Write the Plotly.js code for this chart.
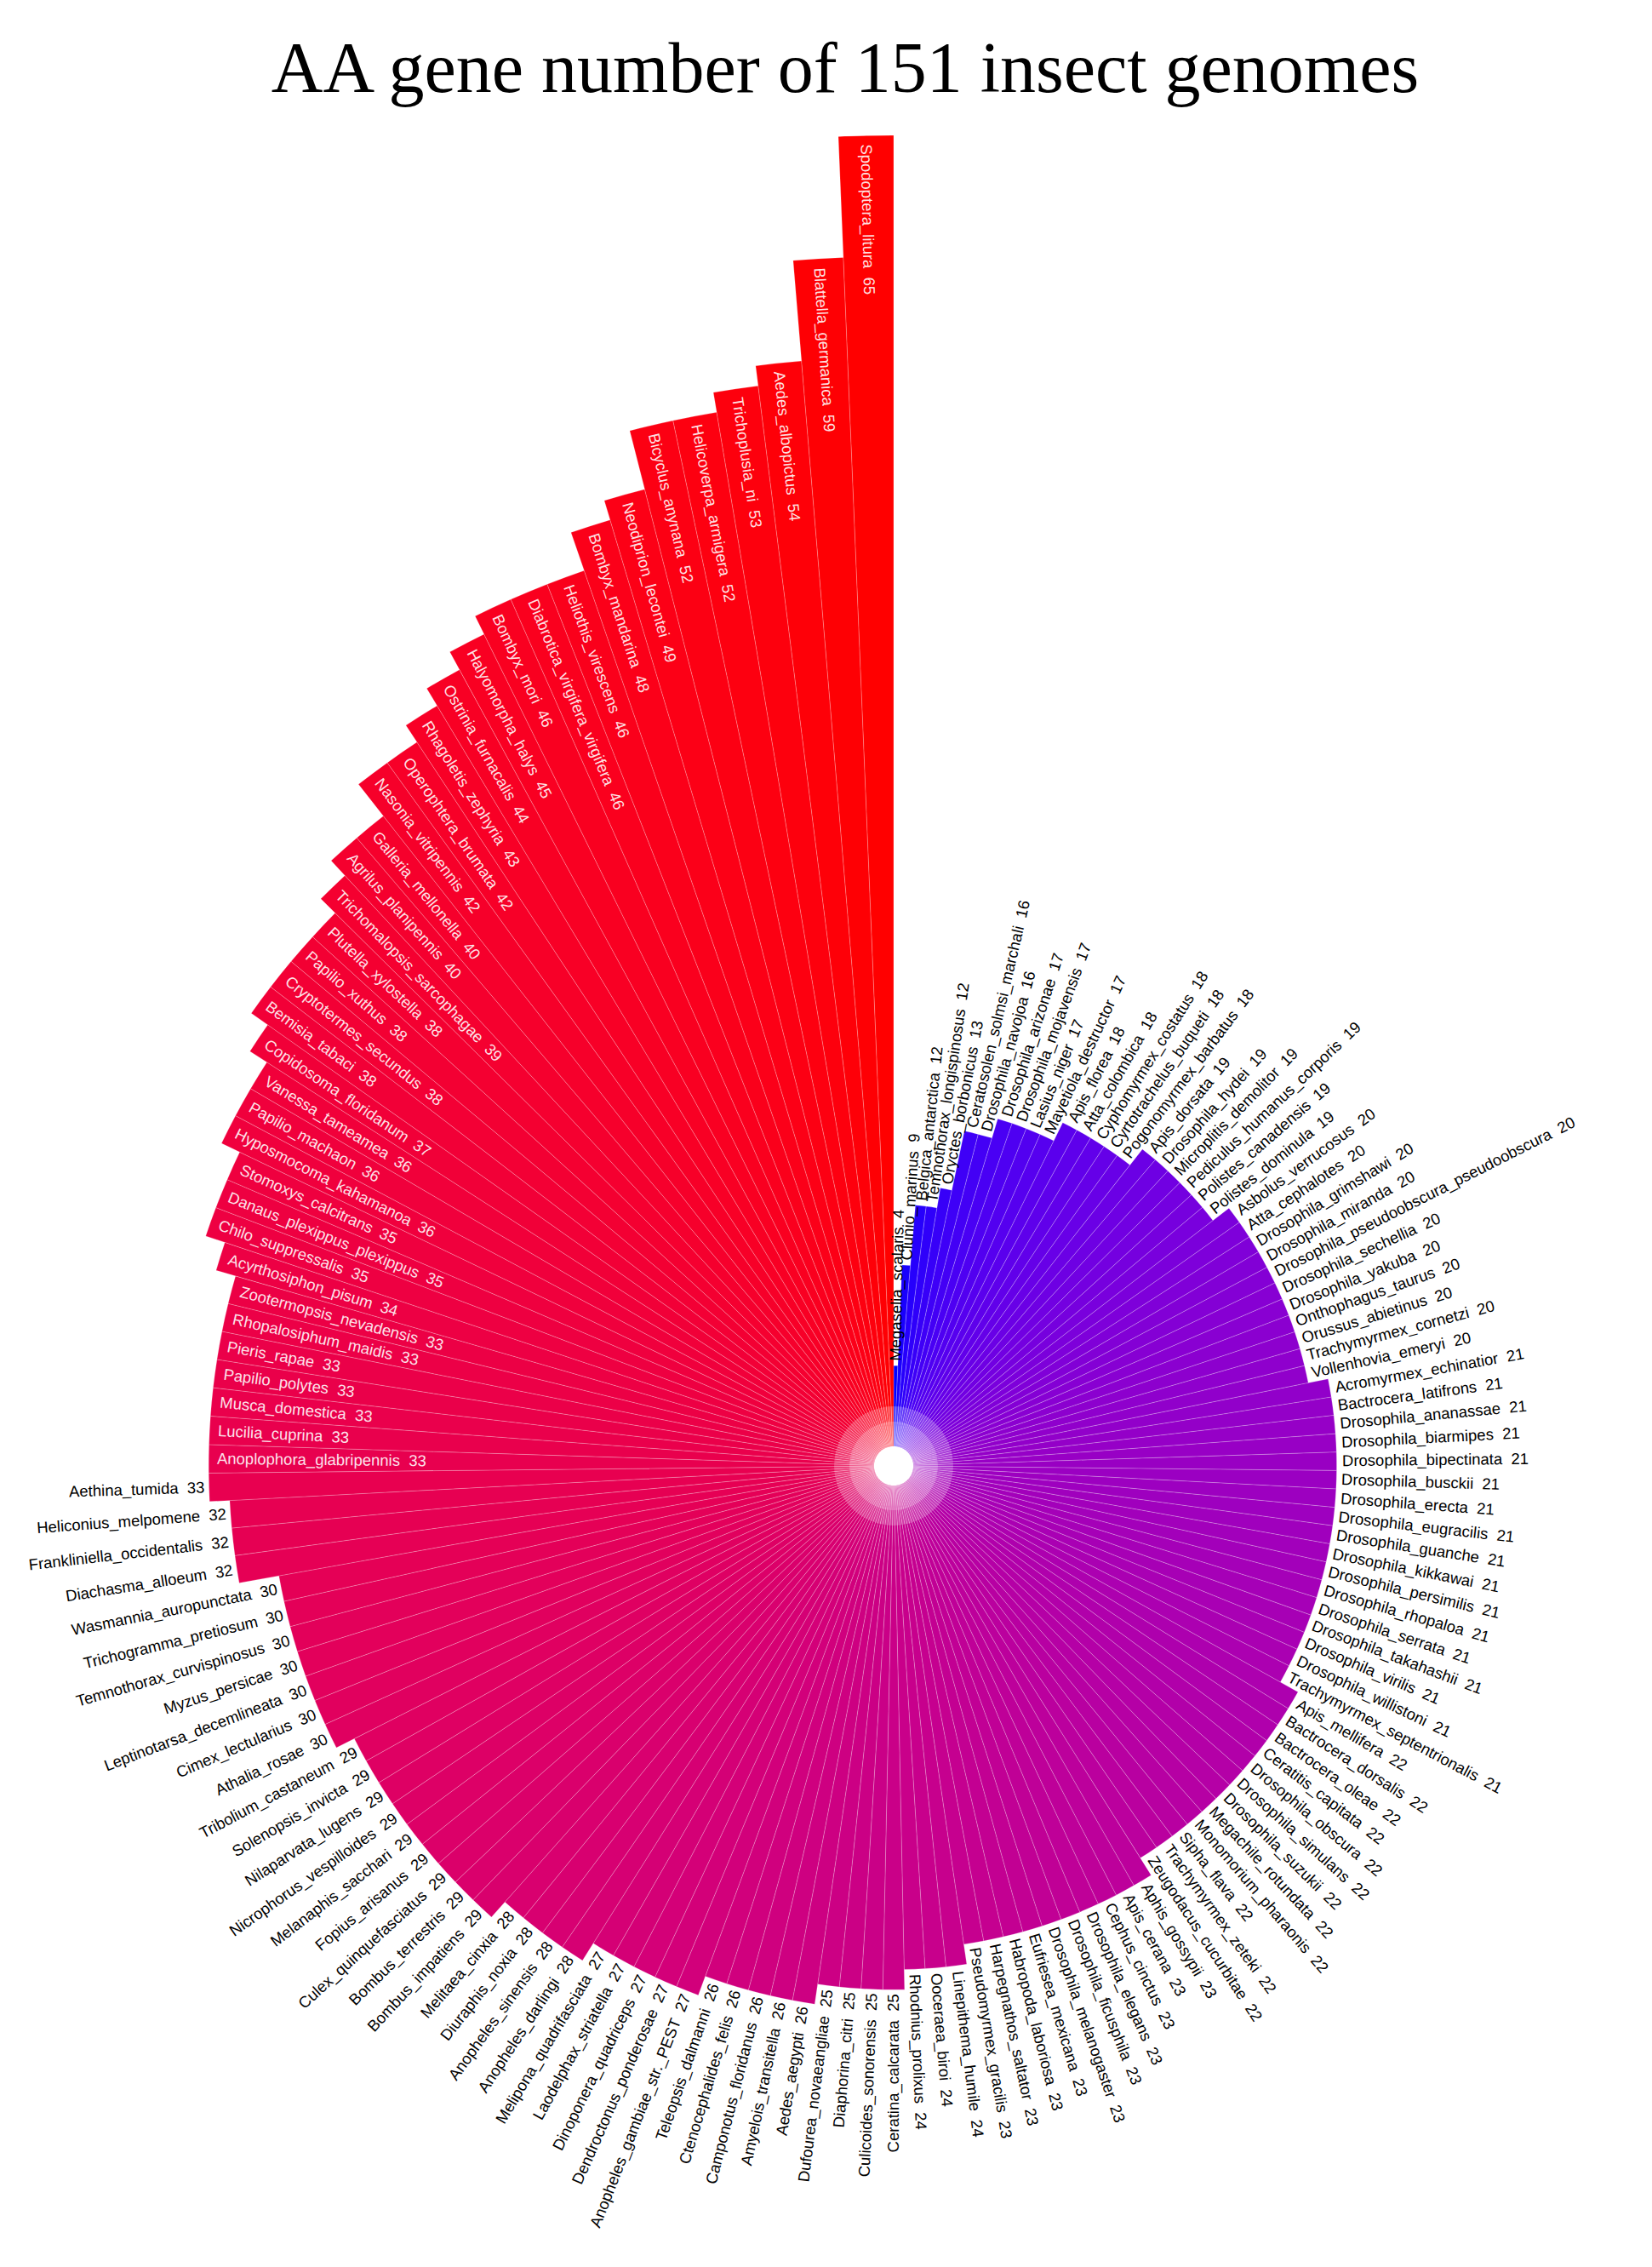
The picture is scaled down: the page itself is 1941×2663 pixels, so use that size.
<!DOCTYPE html>
<html>
<head>
<meta charset="utf-8">
<script src="https://cdn.plot.ly/plotly-3.0.1.min.js"></script>
<style>
html,body{margin:0;padding:0;width:1941px;height:2663px;overflow:hidden;background:#ffffff;}
#chart{position:absolute;left:-520px;top:0;width:3140px;height:3300px;}
</style>
</head>
<body>
<div id="chart"></div>
<script>
// ---- data (ascending, clockwise from 12 o'clock) ----
const species = [
"Megaselia_scalaris","Clunio_marinus","Belgica_antarctica","Temnothorax_longispinosus","Oryctes_borbonicus",
"Ceratosolen_solmsi_marchali","Drosophila_navojoa","Drosophila_arizonae","Drosophila_mojavensis","Lasius_niger",
"Mayetiola_destructor","Apis_florea","Atta_colombica","Cyphomyrmex_costatus","Cyrtotrachelus_buqueti",
"Pogonomyrmex_barbatus","Apis_dorsata","Drosophila_hydei","Microplitis_demolitor","Pediculus_humanus_corporis",
"Polistes_canadensis","Polistes_dominula","Asbolus_verrucosus","Atta_cephalotes","Drosophila_grimshawi",
"Drosophila_miranda","Drosophila_pseudoobscura_pseudoobscura","Drosophila_sechellia","Drosophila_yakuba","Onthophagus_taurus",
"Orussus_abietinus","Trachymyrmex_cornetzi","Vollenhovia_emeryi","Acromyrmex_echinatior","Bactrocera_latifrons",
"Drosophila_ananassae","Drosophila_biarmipes","Drosophila_bipectinata","Drosophila_busckii","Drosophila_erecta",
"Drosophila_eugracilis","Drosophila_guanche","Drosophila_kikkawai","Drosophila_persimilis","Drosophila_rhopaloa",
"Drosophila_serrata","Drosophila_takahashii","Drosophila_virilis","Drosophila_willistoni","Trachymyrmex_septentrionalis",
"Apis_mellifera","Bactrocera_dorsalis","Bactrocera_oleae","Ceratitis_capitata","Drosophila_obscura",
"Drosophila_simulans","Drosophila_suzukii","Megachile_rotundata","Monomorium_pharaonis","Sipha_flava",
"Trachymyrmex_zeteki","Zeugodacus_cucurbitae","Aphis_gossypii","Apis_cerana","Cephus_cinctus",
"Drosophila_elegans","Drosophila_ficusphila","Drosophila_melanogaster","Eufriesea_mexicana","Habropoda_laboriosa",
"Harpegnathos_saltator","Pseudomyrmex_gracilis","Linepithema_humile","Ooceraea_biroi","Rhodnius_prolixus",
"Ceratina_calcarata","Culicoides_sonorensis","Diaphorina_citri","Dufourea_novaeangliae","Aedes_aegypti",
"Amyelois_transitella","Camponotus_floridanus","Ctenocephalides_felis","Teleopsis_dalmanni","Anopheles_gambiae_str._PEST",
"Dendroctonus_ponderosae","Dinoponera_quadriceps","Laodelphax_striatella","Melipona_quadrifasciata","Anopheles_darlingi",
"Anopheles_sinensis","Diuraphis_noxia","Melitaea_cinxia","Bombus_impatiens","Bombus_terrestris",
"Culex_quinquefasciatus","Fopius_arisanus","Melanaphis_sacchari","Nicrophorus_vespilloides","Nilaparvata_lugens",
"Solenopsis_invicta","Tribolium_castaneum","Athalia_rosae","Cimex_lectularius","Leptinotarsa_decemlineata",
"Myzus_persicae","Temnothorax_curvispinosus","Trichogramma_pretiosum","Wasmannia_auropunctata","Diachasma_alloeum",
"Frankliniella_occidentalis","Heliconius_melpomene","Aethina_tumida","Anoplophora_glabripennis","Lucilia_cuprina",
"Musca_domestica","Papilio_polytes","Pieris_rapae","Rhopalosiphum_maidis","Zootermopsis_nevadensis",
"Acyrthosiphon_pisum","Chilo_suppressalis","Danaus_plexippus_plexippus","Stomoxys_calcitrans","Hyposmocoma_kahamanoa",
"Papilio_machaon","Vanessa_tameamea","Copidosoma_floridanum","Bemisia_tabaci","Cryptotermes_secundus",
"Papilio_xuthus","Plutella_xylostella","Trichomalopsis_sarcophagae","Agrilus_planipennis","Galleria_mellonella",
"Nasonia_vitripennis","Operophtera_brumata","Rhagoletis_zephyria","Ostrinia_furnacalis","Halyomorpha_halys",
"Bombyx_mori","Diabrotica_virgifera_virgifera","Heliothis_virescens","Bombyx_mandarina","Neodiprion_lecontei",
"Bicyclus_anynana","Helicoverpa_armigera","Trichoplusia_ni","Aedes_albopictus","Blattella_germanica",
"Spodoptera_litura"
];
const geneCounts = [
4,9,12,12,13,
16,16,17,17,17,
17,18,18,18,18,
18,19,19,19,19,
19,19,20,20,20,
20,20,20,20,20,
20,20,20,21,21,
21,21,21,21,21,
21,21,21,21,21,
21,21,21,21,21,
22,22,22,22,22,
22,22,22,22,22,
22,22,23,23,23,
23,23,23,23,23,
23,23,24,24,24,
25,25,25,25,26,
26,26,26,26,27,
27,27,27,27,28,
28,28,28,29,29,
29,29,29,29,29,
29,29,30,30,30,
30,30,30,30,32,
32,32,33,33,33,
33,33,33,33,33,
34,35,35,35,36,
36,36,37,38,38,
38,38,39,40,40,
42,42,43,44,45,
46,46,46,48,49,
52,52,53,54,59,
65
];
const titleText = "AA gene number of 151 insect genomes";

// ---- geometry of the (oversized) plotting div ----
const W = 3140, H = 3300;          // div size
const CX = 1570, CY = 1722;        // circle centre inside the div
const R_OUT = 1563, R_HOLE = 23;   // outer radius / hole radius (px)
const RMAX = 65;                   // radial axis upper limit
const N = species.length;
const STEP = 360 / N;
const LABEL_FONT = 18.5;

// ---- colour: Lab gradient low=blue, high=red by rank ----
function srgbToLab(r,g,b){
  const lin=c=>{c/=255;return c<=0.04045?c/12.92:Math.pow((c+0.055)/1.055,2.4);};
  const R=lin(r),G=lin(g),B=lin(b);
  let X=(0.4124564*R+0.3575761*G+0.1804375*B)/0.95047;
  let Y=(0.2126729*R+0.7151522*G+0.0721750*B);
  let Z=(0.0193339*R+0.1191920*G+0.9503041*B)/1.08883;
  const f=t=>t>0.008856?Math.cbrt(t):7.787*t+16/116;
  const fx=f(X),fy=f(Y),fz=f(Z);
  return [116*fy-16,500*(fx-fy),200*(fy-fz)];
}
function labToSrgb(L,a,b){
  const fy=(L+16)/116,fx=fy+a/500,fz=fy-b/200;
  const inv=f=>{const c=f*f*f;return c>0.008856?c:(f-16/116)/7.787;};
  const X=inv(fx)*0.95047,Y=inv(fy),Z=inv(fz)*1.08883;
  let R=3.2404542*X-1.5371385*Y-0.4985314*Z;
  let G=-0.9692660*X+1.8760108*Y+0.0415560*Z;
  let B=0.0556434*X-0.2040259*Y+1.0572252*Z;
  const g=c=>{c=c<=0.0031308?12.92*c:1.055*Math.pow(c,1/2.4)-0.055;return Math.round(Math.max(0,Math.min(1,c))*255);};
  return 'rgb('+g(R)+','+g(G)+','+g(B)+')';
}
const labLow=srgbToLab(0,0,255), labHigh=srgbToLab(255,0,0);
const barColors=species.map((s,i)=>{
  const t=i/(N-1);
  return labToSrgb(labLow[0]+t*(labHigh[0]-labLow[0]),labLow[1]+t*(labHigh[1]-labLow[1]),labLow[2]+t*(labHigh[2]-labLow[2]));
});
const thetas=species.map((s,i)=>(i+0.5)*STEP);

const bars={
  type:'barpolar', r:geneCounts, theta:thetas, width:species.map(()=>STEP),
  marker:{color:barColors,line:{color:'rgba(255,255,255,0.45)',width:0.5}},
  hoverinfo:'skip', showlegend:false
};
// semi-transparent white discs near the centre
const ringRadii=[1.98,1.22];
const rings=ringRadii.map(rr=>({
  type:'barpolar', r:[rr,rr,rr,rr], theta:[45,135,225,315], width:[90,90,90,90],
  marker:{color:'rgba(255,255,255,0.22)',line:{width:0}}, hoverinfo:'skip', showlegend:false
}));

// ---- labels as rotated annotations ----
const cvs=document.createElement('canvas').getContext('2d');
cvs.font=LABEL_FONT+'px "Liberation Sans", Arial, sans-serif';
const rpx=v=>R_HOLE+(v/RMAX)*(R_OUT-R_HOLE);
const annotations=species.map((s,i)=>{
  const txt=s+'\u00a0\u00a0'+geneCounts[i];
  const w=cvs.measureText(txt).width;
  const t=thetas[i];
  const rad=t*Math.PI/180;
  const dx=Math.sin(rad), dy=-Math.cos(rad);
  const tip=rpx(geneCounts[i]);
  let dist, angle, color;
  if(t<180){ dist=tip+6+w/2; angle=t-90; color='#000000'; }
  else if(t<270){ dist=tip+5+w/2; angle=t-270; color='#000000'; }
  else { dist=tip-10-w/2; angle=t-270; color='rgba(255,255,255,0.9)'; }
  return {
    x:(CX+dx*dist)/W, y:1-(CY+dy*dist)/H, xref:'paper', yref:'paper',
    text:txt, showarrow:false, textangle:angle, xanchor:'center', yanchor:'middle',
    font:{family:'"Liberation Sans", Arial, sans-serif',size:LABEL_FONT,color:color}
  };
});

const layout={
  width:W, height:H, margin:{l:0,r:0,t:0,b:0},
  paper_bgcolor:'#ffffff', plot_bgcolor:'#ffffff', showlegend:false,
  title:{text:titleText, x:1513/W, xref:'paper', xanchor:'center', y:1-79/H, yref:'container', yanchor:'middle',
         font:{family:'"Liberation Serif", "Times New Roman", serif', size:84, color:'#000000'}},
  polar:{
    domain:{x:[(CX-R_OUT)/W,(CX+R_OUT)/W], y:[(H-CY-R_OUT)/H,(H-CY+R_OUT)/H]},
    hole:R_HOLE/R_OUT, bgcolor:'#ffffff', bargap:0, barmode:'overlay',
    radialaxis:{range:[0,RMAX],visible:false,showgrid:false},
    angularaxis:{direction:'clockwise',rotation:90,showgrid:false,showline:false,showticklabels:false,ticks:''}
  },
  annotations:annotations
};
Plotly.newPlot('chart',[bars].concat(rings),layout,{displayModeBar:false,staticPlot:true});
</script>
</body>
</html>
